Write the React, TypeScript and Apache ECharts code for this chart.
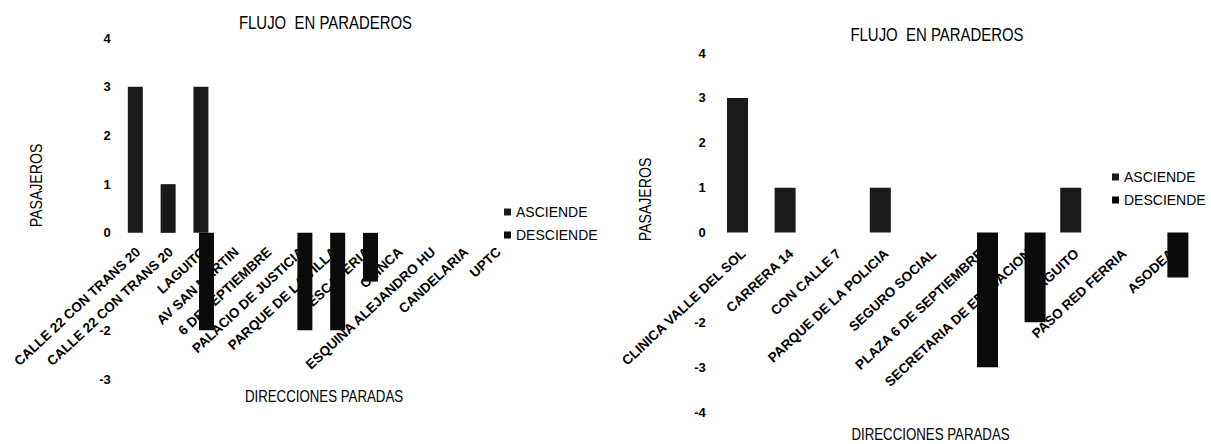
import React, { useEffect, useRef } from 'react';
import * as echarts from 'echarts';

// ---------- data ----------
const chartTitle = 'FLUJO  EN PARADEROS';
const xAxisTitle = 'DIRECCIONES PARADAS';
const yAxisTitle = 'PASAJEROS';
const seriesNames = ['ASCIENDE', 'DESCIENDE'];

const leftCategories = [
  'CALLE 22 CON TRANS 20',
  'CALLE 22 CON TRANS 20',
  'LAGUITO',
  'AV SAN MARTIN',
  '6 DE SEPTIEMBRE',
  'PALACIO DE JUSTICIA',
  'PARQUE DE LA VILLA',
  'PESCADERIA',
  'CHINCA',
  'ESQUINA ALEJANDRO HU',
  'CANDELARIA',
  'UPTC',
];
const leftAsciende = [3, 1, 3, 0, 0, 0, 0, 0, 0, 0, 0, 0];
const leftDesciende = [0, 0, -2, 0, 0, -2, -2, -1, 0, 0, 0, 0];
const leftYMin = -3;
const leftYMax = 4;

const rightCategories = [
  'CLINICA VALLE DEL SOL',
  'CARRERA 14',
  'CON CALLE 7',
  'PARQUE DE LA POLICIA',
  'SEGURO SOCIAL',
  'PLAZA 6 DE SEPTIEMBRE',
  'SECRETARIA DE EDUCACION',
  'LAGUITO',
  'PASO RED FERRIA',
  'ASODEA',
];
const rightAsciende = [3, 1, 0, 1, 0, 0, 0, 1, 0, 0];
const rightDesciende = [0, 0, 0, 0, 0, -3, -2, 0, 0, -1];
const rightYMin = -4;
const rightYMax = 4;

// tick labels hidden under the category labels in the original
const hiddenTickValues = [-1];

// ---------- styles ----------
const FONT = '"Liberation Sans", Arial, Helvetica, sans-serif';
const ASC_COLOR = '#1a1a1a';
const DESC_COLOR = '#0b0b0b';

const LEFT_GRID = { left: 121.7, top: 38, width: 393.6, height: 341 };
const RIGHT_GRID = { left: 719.7, top: 53, width: 476, height: 359 };

export default function App() {
  const ref = useRef<HTMLDivElement>(null);

  useEffect(() => {
    if (!ref.current) return;
    const chart = echarts.init(ref.current, null, { renderer: 'svg' });

    const yLabel = (v: number) => (hiddenTickValues.includes(v) ? '' : String(v));

    // offset (negative = upward) that puts the category axis on the value 0
    const zeroOffset = (g: { height: number }, min: number, max: number) =>
      -g.height * ((0 - min) / (max - min));

    const catAxis = (gridIndex: number, data: string[], margin: number, offset: number) => ({
      type: 'category',
      gridIndex,
      data,
      position: 'bottom',
      offset,
      axisLine: { show: false, onZero: false },
      axisTick: { show: false },
      splitLine: { show: false },
      axisLabel: {
        interval: 0,
        rotate: 43,
        margin,
        color: '#000',
        fontSize: 13.5,
        fontWeight: 'bold',
        fontFamily: FONT,
      },
    });

    const valAxis = (gridIndex: number, min: number, max: number, margin: number) => ({
      type: 'value',
      gridIndex,
      min,
      max,
      interval: 1,
      axisLine: { show: false },
      axisTick: { show: false },
      splitLine: { show: false },
      axisLabel: {
        margin,
        color: '#000',
        fontSize: 13,
        fontWeight: 'bold',
        fontFamily: FONT,
        formatter: yLabel,
      },
    });

    const legend = (left: number, top: number) => ({
      orient: 'vertical',
      left,
      top,
      padding: 0,
      itemWidth: 7,
      itemHeight: 7,
      itemGap: 9,
      icon: 'rect',
      data: seriesNames,
      textStyle: { color: '#000', fontSize: 14, fontFamily: FONT },
    });

    const titleText = (x: number, y: number, text: string, size: number, rotation = 0) => ({
      type: 'text',
      x,
      y,
      rotation,
      scaleX: 0.83,
      style: {
        text,
        fill: '#000',
        font: `${size}px ${FONT}`,
        textAlign: 'center',
        textVerticalAlign: 'middle',
      },
    });

    chart.setOption({
      animation: false,
      backgroundColor: '#fff',
      grid: [
        { ...LEFT_GRID, containLabel: false, outerBoundsMode: 'none' },
        { ...RIGHT_GRID, containLabel: false, outerBoundsMode: 'none' },
      ],
      xAxis: [
        catAxis(0, leftCategories, 17, zeroOffset(LEFT_GRID, leftYMin, leftYMax)),
        catAxis(1, rightCategories, 19, zeroOffset(RIGHT_GRID, rightYMin, rightYMax)),
      ],
      yAxis: [valAxis(0, leftYMin, leftYMax, 11), valAxis(1, rightYMin, rightYMax, 14)],
      legend: [legend(504, 205), legend(1112, 170)],
      graphic: [
        titleText(325.5, 23, chartTitle, 18),
        titleText(937, 35, chartTitle, 18),
        titleText(324, 397, xAxisTitle, 16),
        titleText(930.5, 435, xAxisTitle, 16),
        titleText(36, 185.5, yAxisTitle, 17, Math.PI / 2),
        titleText(645, 199.5, yAxisTitle, 17, Math.PI / 2),
      ],
      series: [
        {
          name: seriesNames[0],
          type: 'bar',
          xAxisIndex: 0,
          yAxisIndex: 0,
          data: leftAsciende,
          barWidth: 15,
          barGap: '-63%',
          itemStyle: { color: ASC_COLOR },
        },
        {
          name: seriesNames[1],
          type: 'bar',
          xAxisIndex: 0,
          yAxisIndex: 0,
          data: leftDesciende,
          barWidth: 15,
          barGap: '-63%',
          itemStyle: { color: DESC_COLOR },
        },
        {
          name: seriesNames[0],
          type: 'bar',
          xAxisIndex: 1,
          yAxisIndex: 1,
          data: rightAsciende,
          barWidth: 21,
          barGap: '-43%',
          itemStyle: { color: ASC_COLOR },
        },
        {
          name: seriesNames[1],
          type: 'bar',
          xAxisIndex: 1,
          yAxisIndex: 1,
          data: rightDesciende,
          barWidth: 21,
          barGap: '-43%',
          itemStyle: { color: DESC_COLOR },
        },
      ],
    });

    return () => chart.dispose();
  }, []);

  return (
    <div
      ref={ref}
      style={{ position: 'absolute', left: 0, top: 0, width: 1211, height: 444, background: '#fff' }}
    />
  );
}
